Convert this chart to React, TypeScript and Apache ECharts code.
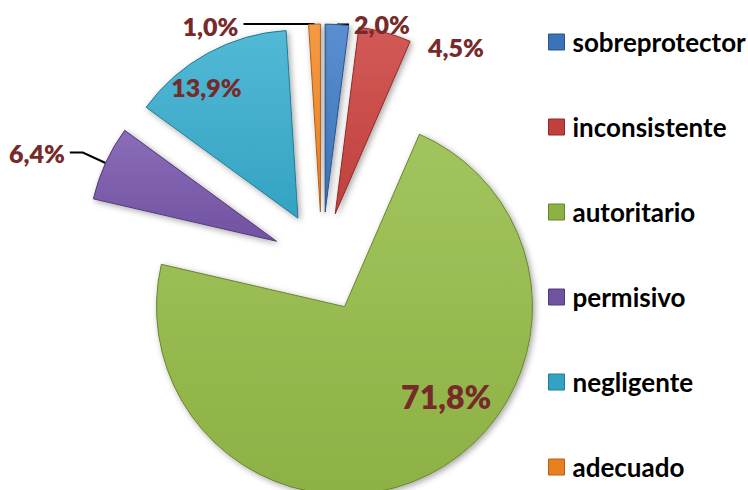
import React, { useEffect, useRef } from "react";
import * as echarts from "echarts";

const categories = ["sobreprotector", "inconsistente", "autoritario", "permisivo", "negligente", "adecuado"];
const values = [2.0, 4.5, 71.8, 6.4, 13.9, 1.0];
const colors = ["#3B73B9", "#C0403D", "#8DB144", "#7152A1", "#33A3C2", "#E8801F"];
const lights = ["#5A8FD0", "#D25A57", "#A2C45E", "#8A6CB8", "#52B9D6", "#F59A45"];
const borders = ["#2A558C", "#8E2A28", "#67852E", "#513A78", "#237A92", "#B0601A"];

// label placement per slice (presentation only)
const labelPos = ["outside", "outside", "inside", "outside", "inside", "outside"];
const lineLen1 = [0, 0, 0, 25, 0, 0];
const lineLen2 = [12, 38, 0, 13, 0, 71];
const lineShow = [true, false, false, true, false, true];
const labelShift: Record<number, [number, number]> = { 1: [0, 14], 2: [58, 3], 4: [-45, -46], 5: [0, 2] };

const fmt = (v: number) => v.toFixed(1).replace(".", ",") + "%";

export default function App() {
  const ref = useRef<HTMLDivElement>(null);
  useEffect(() => {
    document.body.style.margin = "0";
    const chart = echarts.init(ref.current!, undefined, { renderer: "svg" });
    const data = categories.map((name, i) => ({
      name,
      value: values[i],
      selected: true,
      itemStyle: {
        color: new echarts.graphic.LinearGradient(0, 0, 0, 1, [
          { offset: 0, color: lights[i] },
          { offset: 1, color: colors[i] },
        ]),
        borderColor: borders[i],
        borderWidth: 1,
      },
      label: {
        position: labelPos[i],
        fontSize: i === 2 ? 32 : 25,
      },
      labelLine: {
        show: lineShow[i],
        length: lineLen1[i],
        length2: lineLen2[i],
        lineStyle: { color: "#000", width: 2 },
      },
    }));
    chart.setOption({
      animation: false,
      backgroundColor: "#fff",
      legend: {
        orient: "vertical",
        left: 548,
        top: 27,
        padding: 0,
        itemWidth: 16,
        itemHeight: 16,
        itemGap: 55,
        icon: "rect",
        data: categories.map((n, i) => ({ name: n, itemStyle: { color: colors[i], borderColor: borders[i], borderWidth: 1 } })),
        textStyle: {
          fontFamily: "Lato",
          fontWeight: "bold",
          fontSize: 26,
          lineHeight: 30,
          color: "#000",
          padding: [0, 0, 0, 3],
        },
      },
      series: [
        {
          type: "pie",
          center: [322, 262],
          radius: 188,
          startAngle: 90,
          clockwise: true,
          selectedMode: "multiple",
          selectedOffset: 50,
          avoidLabelOverlap: false,
          silent: true,
          itemStyle: {
            shadowBlur: 6,
            shadowColor: "rgba(0,0,0,0.35)",
            shadowOffsetX: 2,
            shadowOffsetY: 2,
          },
          label: {
            show: true,
            formatter: (p: any) => fmt(p.value),
            color: "#762B2A",
            fontFamily: "Lato",
            fontWeight: 800,
            distanceToLabelLine: 5,
          },
          labelLayout: (p: any) => {
            const s = labelShift[p.dataIndex];
            return s ? { dx: s[0], dy: s[1] } : {};
          },
          data,
        },
      ],
    });
    return () => chart.dispose();
  }, []);
  return <div ref={ref} style={{ width: 748, height: 490 }} />;
}
